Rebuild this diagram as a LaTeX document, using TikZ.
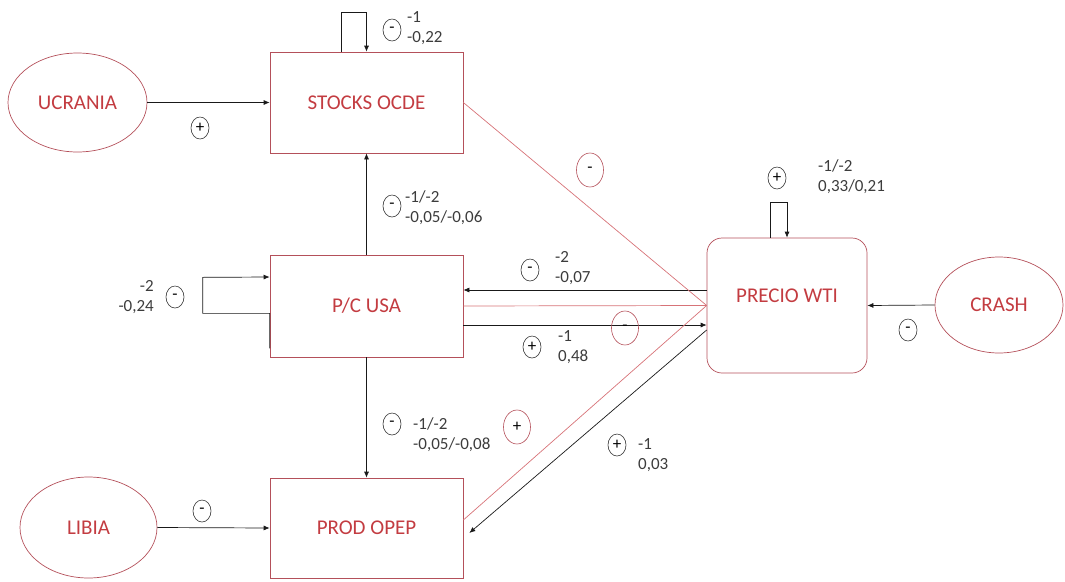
\documentclass[tikz,border=0pt]{standalone}
\usepackage{fontspec}
\setmainfont{Carlito}
\usepackage{xcolor}
\usetikzlibrary{arrows.meta,positioning,calc,shapes.geometric}
\definecolor{txtred}{RGB}{195,60,65}
\definecolor{bordred}{RGB}{180,80,90}
\definecolor{linered}{RGB}{215,115,120}
\definecolor{coefgray}{RGB}{60,60,60}

\begin{document}
\begin{tikzpicture}[x=1pt,y=-1pt,
  box/.style={draw=bordred,line width=0.7pt,align=center,text=txtred,inner sep=0pt,font=\fontsize{21}{25}\selectfont},
  cause/.style={draw=bordred,line width=0.7pt,ellipse,align=center,text=txtred,inner sep=0pt,font=\fontsize{21}{25}\selectfont},
  sign/.style={draw=black!80,line width=0.6pt,ellipse,minimum width=18pt,minimum height=22pt,inner sep=0pt,font=\fontsize{17}{19}\selectfont},
  redsign/.style={draw=bordred,line width=0.6pt,ellipse,minimum width=27pt,minimum height=34pt,inner sep=0pt,font=\fontsize{17}{19}\selectfont},
  coef/.style={align=left,anchor=west,inner sep=0pt,text=coefgray,font=\fontsize{17}{20}\selectfont},
  arrow/.style={-{Latex[length=6pt,width=5pt]},draw=black!90,line width=0.7pt},
  redline/.style={draw=linered,line width=0.7pt}
]
\useasboundingbox (0,0) rectangle (1065,581);
% boxes
\node[box,minimum width=193pt,minimum height=101pt] (stocks) at (366.5,102.5) {STOCKS OCDE};
\node[box,minimum width=193pt,minimum height=102pt] (pc) at (366.5,306) {P/C USA};
\node[box,minimum width=193pt,minimum height=100pt] (prod) at (366.5,528) {PROD OPEP};
\node[box,rounded corners=15pt,minimum width=160pt,minimum height=135pt] (wti) at (787,305.5) {\raisebox{20pt}{PRECIO WTI}};
% outside causes
\node[cause,minimum width=139pt,minimum height=99pt] (ucrania) at (77.5,102.5) {UCRANIA};
\node[cause,minimum width=137pt,minimum height=101pt] (libia) at (88.5,527.5) {LIBIA};
\node[cause,minimum width=128pt,minimum height=96pt] (crash) at (999,305) {CRASH};

% connectors
\draw[arrow] (ucrania.east) -- (stocks.west);
\draw[arrow] (libia.east) -- (prod.west);
\draw[arrow] (crash.west) -- (wti.east);
\draw[arrow] (pc.north) -- (stocks.south);
\draw[arrow] (pc.south) -- (prod.north);
\draw[arrow] ([xshift=-25.5pt]stocks.north) -- ++(0,-39) -| (stocks.north);
\draw[arrow] ([xshift=-17pt]wti.north) -- ++(0,-35) -| (wti.north);
\draw[arrow] ([yshift=9pt]pc.south west) -- ++(0,-35) -- ++(-67,0) -- ++(0,-36) -- ([yshift=29pt]pc.west);
\coordinate (wtiup) at ([yshift=15.5pt]wti.west);
\coordinate (pcdown) at ([yshift=-19pt]pc.east);
\draw[arrow] (wtiup) -- (wtiup -| pc.east);
\draw[arrow] (pcdown) -- (pcdown -| wti.west);
\draw[redline] (pc.east) -- (wti.west);
\draw[redline] (stocks.east) -- (wti.west);
\draw[redline] ([yshift=8pt]prod.east) -- (wti.west);
\draw[arrow] ([yshift=-24.5pt]wti.west) -- ([xshift=6pt,yshift=-5pt]prod.east);

% signs and coefficients
\node[sign] (sstocks) at (392,30) {-};
\node[coef] (cstocks) at (407,28) {-1\\-0,22};
\node[sign] (sucrania) at (200,128) {+};
\node[sign] (spcup) at (392,206) {-};
\node[coef] (cpcup) at (405,208) {-1/-2\\-0,05/-0,06};
\node[sign] (spc) at (175,297) {-};
\node[coef,anchor=east,align=right] (cpc) at (154,297) {-2\\-0,24};
\node[sign] (swtipc) at (530,270) {-};
\node[coef] (cwtipc) at (555,268) {-2\\-0,07};
\node[redsign] (rpcwti) at (625,328) {-};
\node[sign] (spcwti) at (532,347) {+};
\node[coef] (cpcwti) at (558,347) {-1\\0,48};
\node[redsign] (rstocks) at (590,170) {-};
\node[sign] (spcdown) at (392,424) {-};
\node[coef] (cpcdown) at (413,435) {-1/-2\\-0,05/-0,08};
\node[redsign] (rprod) at (517,427) {+};
\node[sign] (swtiprod) at (617,445) {+};
\node[coef] (cwtiprod) at (638,455) {-1\\0,03};
\node[sign] (slibia) at (202,511) {-};
\node[sign] (swti) at (777,178) {+};
\node[coef] (cwti) at (818,177) {-1/-2\\0,33/0,21};
\node[sign] (scrash) at (908,330) {-};
\end{tikzpicture}
\end{document}
